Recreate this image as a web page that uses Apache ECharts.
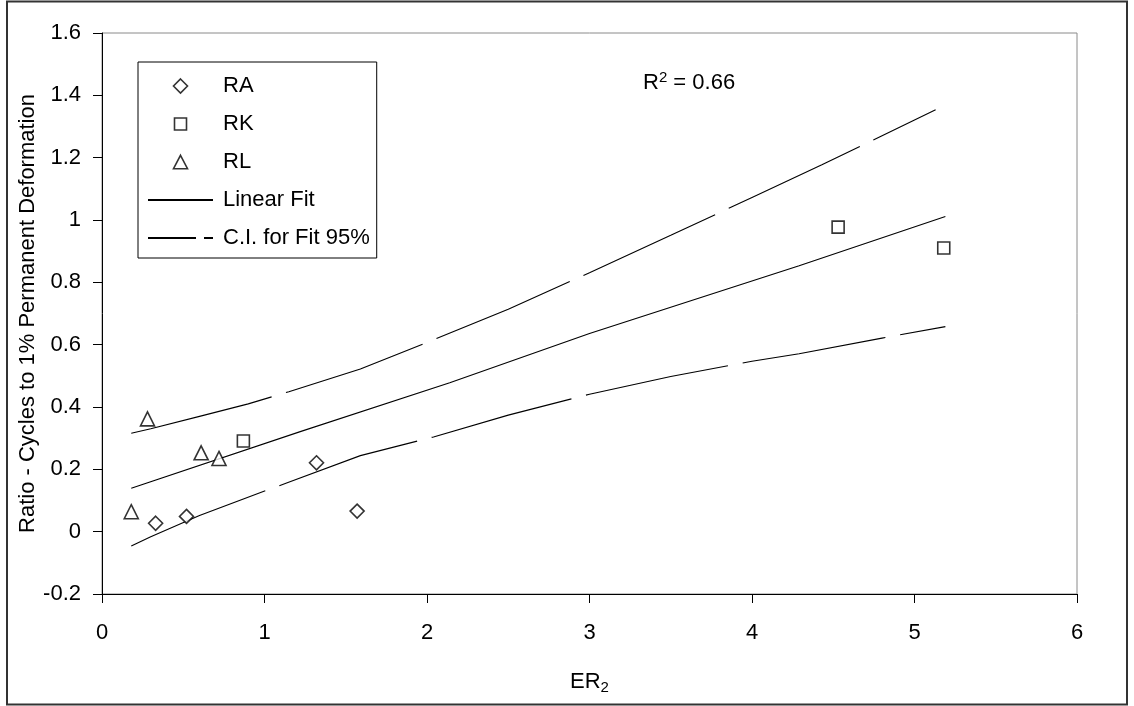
<!DOCTYPE html>
<html>
<head>
<meta charset="utf-8">
<script src="https://cdn.jsdelivr.net/npm/echarts@6/dist/echarts.min.js"></script>
<style>
html,body{margin:0;padding:0;background:#fff;}
#chart{width:1134px;height:706px;}
</style>
</head>
<body>
<div id="chart"></div>
<script>
// ---- data ----
const raPoints = [[0.33, 0.027], [0.52, 0.049], [1.32, 0.221], [1.57, 0.066]];
const rkPoints = [[0.87, 0.291], [4.53, 0.977], [5.18, 0.910]];
const rlPoints = [[0.18, 0.064], [0.28, 0.362], [0.61, 0.253], [0.72, 0.235]];
const fitLine = [[0.18, 0.139], [1.22, 0.321], [2.14, 0.478], [3.0, 0.636], [4.29, 0.853], [5.19, 1.011]];
const ciUpper = [[0.18, 0.316], [0.30, 0.330], [0.6, 0.370], [0.9, 0.410], [1.15, 0.449], [1.59, 0.522],
                 [2.0, 0.607], [2.5, 0.714], [3.0, 0.831], [3.5, 0.951], [4.0, 1.072], [4.43, 1.177], [5.13, 1.354]];
const ciLower = [[0.18, -0.046], [0.30, -0.016], [0.6, 0.052], [0.87, 0.105], [1.14, 0.157], [1.59, 0.244],
                 [2.04, 0.304], [2.5, 0.374], [3.0, 0.441], [3.5, 0.498], [4.0, 0.547], [4.29, 0.571], [4.8, 0.621], [5.19, 0.658]];
const xTicks = {min: 0, max: 6, interval: 1};
const yTicks = {min: -0.2, max: 1.6, interval: 0.2};
const xTitle = 'ER';
const xTitleSub = '2';
const yTitle = 'Ratio - Cycles to 1% Permanent Deformation';
const r2Label = '0.66';

const FONT = '"Liberation Sans", Arial, sans-serif';
const chart = echarts.init(document.getElementById('chart'));

const markerStyle = {color: '#fff', borderColor: '#000', borderWidth: 1.6};
const hiddenSymbol = {color: 'rgba(0,0,0,0)', borderColor: 'rgba(0,0,0,0)', borderWidth: 0};
// legend icons: small marker centred in a 65x14 box (the leading moves fix the box)
const legendDiamond = 'path://M0,0M65,14M32.5,0L39.5,7L32.5,14L25.5,7Z';
const legendSquare = 'path://M0,0M65,14M26.5,1L38.5,1L38.5,13L26.5,13Z';
const legendTriangle = 'path://M0,0M65,14M32.5,0.3L39.5,13.7L25.5,13.7Z';

chart.setOption({
  animation: false,
  backgroundColor: '#fff',
  textStyle: {fontFamily: FONT},
  grid: {left: 102, top: 33, right: 57, bottom: 112, show: true, borderColor: '#8a8a8a', borderWidth: 1, backgroundColor: 'transparent'},
  xAxis: {
    type: 'value', min: xTicks.min, max: xTicks.max, interval: xTicks.interval,
    splitLine: {show: false},
    axisLine: {show: true, onZero: false, lineStyle: {color: '#000', width: 1}},
    axisTick: {show: true, inside: false, length: 9, lineStyle: {color: '#000'}},
    axisLabel: {color: '#000', fontSize: 22, fontFamily: FONT, margin: 28},
    name: xTitle + '{s|' + xTitleSub + '}',
    nameLocation: 'middle', nameGap: 74, nameMoveOverlap: false,
    nameTextStyle: {color: '#000', fontSize: 22, fontFamily: FONT,
      rich: {s: {fontSize: 15, fontFamily: FONT, color: '#000', verticalAlign: 'bottom', padding: [12, 0, 0, 0]}}}
  },
  yAxis: {
    type: 'value', min: yTicks.min, max: yTicks.max, interval: yTicks.interval,
    splitLine: {show: false},
    axisLine: {show: true, onZero: false, lineStyle: {color: '#000', width: 1}},
    axisTick: {show: true, inside: false, length: 9, lineStyle: {color: '#000'}},
    axisLabel: {color: '#000', fontSize: 22, fontFamily: FONT, margin: 21,
      formatter: v => String(+(+v).toFixed(1))},
    name: yTitle, nameLocation: 'middle', nameGap: 63, nameRotate: 90, nameMoveOverlap: false,
    nameTextStyle: {color: '#000', fontSize: 22, fontFamily: FONT}
  },
  legend: {
    left: 138, top: 62, orient: 'vertical',
    padding: [13, 7, 9, 9],
    itemWidth: 65, itemHeight: 14, itemGap: 16,
    borderColor: '#000', borderWidth: 1, backgroundColor: '#fff',
    textStyle: {color: '#000', fontSize: 22, fontFamily: FONT, lineHeight: 22, padding: [0, 0, 0, 5]},
    data: [
      {name: 'RA', icon: legendDiamond, itemStyle: markerStyle},
      {name: 'RK', icon: legendSquare, itemStyle: markerStyle},
      {name: 'RL', icon: legendTriangle, itemStyle: markerStyle},
      {name: 'Linear Fit', itemStyle: hiddenSymbol},
      {name: 'C.I. for Fit 95%', itemStyle: hiddenSymbol, lineStyle: {type: [48, 8]}}
    ]
  },
  series: [
    {name: 'RA', type: 'scatter', data: raPoints, symbol: 'diamond', symbolSize: 14, itemStyle: markerStyle, z: 5},
    {name: 'RK', type: 'scatter', data: rkPoints, symbol: 'rect', symbolSize: 12, itemStyle: markerStyle, z: 5},
    {name: 'RL', type: 'scatter', data: rlPoints, symbol: 'triangle', symbolSize: 14, itemStyle: markerStyle, z: 5},
    {name: 'Linear Fit', type: 'line', data: fitLine, showSymbol: false, symbol: 'none',
      lineStyle: {color: '#000', width: 1.1}, itemStyle: {color: '#000'}},
    {name: 'C.I. for Fit 95%', type: 'line', data: ciUpper, showSymbol: false, symbol: 'none',
      lineStyle: {color: '#000', width: 1.1, type: [145, 15]}, itemStyle: {color: '#000'}},
    {name: 'C.I. for Fit 95%', type: 'line', data: ciLower, showSymbol: false, symbol: 'none',
      lineStyle: {color: '#000', width: 1.1, type: [145, 15]}, itemStyle: {color: '#000'}}
  ],
  graphic: [
    {type: 'rect', shape: {x: 7, y: 1.5, width: 1120, height: 703}, style: {fill: 'none', stroke: '#333', lineWidth: 2}, silent: true, z: 100},
    {type: 'text', left: 643, top: 70,
      style: {text: 'R{p|2} = ' + r2Label, fill: '#000', fontSize: 22, fontFamily: FONT,
        rich: {p: {fontSize: 15, fontFamily: FONT, fill: '#000', verticalAlign: 'top', padding: [0, 0, 10, 0]}}}}
  ]
});
</script>
</body>
</html>
